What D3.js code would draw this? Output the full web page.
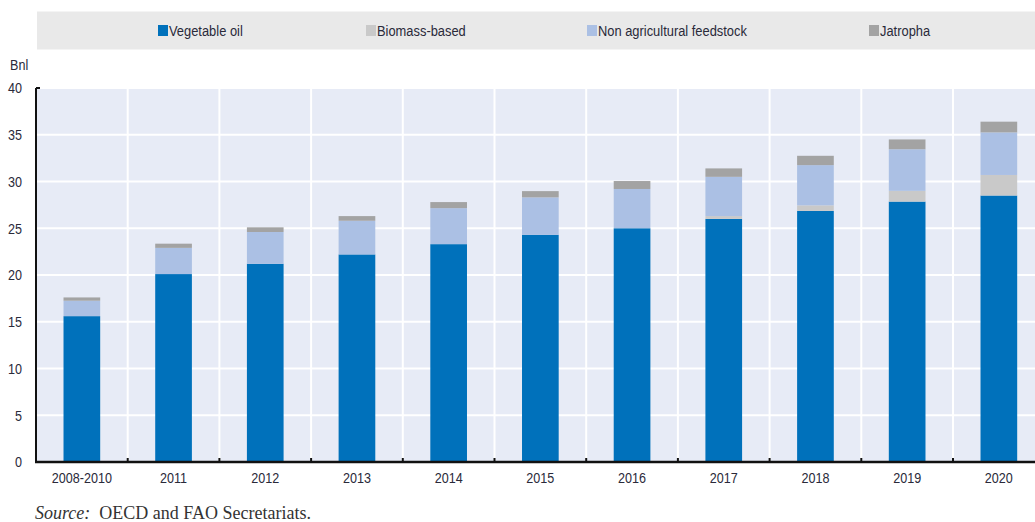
<!DOCTYPE html>
<html><head><meta charset="utf-8">
<script src="https://cdn.jsdelivr.net/npm/d3@7"></script>
<style>
body{margin:0;background:#fff;}
svg{display:block;}
.nar{font-family:"Liberation Sans Narrow","Arial Narrow","Liberation Sans",Arial,sans-serif;}
</style></head>
<body>
<svg id="c" width="1035" height="522"></svg>
<script>
const categories = ["2008-2010","2011","2012","2013","2014","2015","2016","2017","2018","2019","2020"];
const vegetableOil = [15.6,20.1,21.2,22.2,23.3,24.3,25.0,26.0,26.85,27.85,28.5];
const biomassBased = [0,0,0,0,0,0,0,0.3,0.6,1.15,2.2];
const nonAgricultural = [1.65,2.8,3.4,3.6,3.85,4.0,4.2,4.2,4.3,4.45,4.55];
const jatropha = [0.35,0.45,0.5,0.5,0.65,0.67,0.85,0.9,1.0,1.05,1.15];
const seriesNames = ["Vegetable oil","Biomass-based","Non agricultural feedstock","Jatropha"];
const seriesColors = ["#0071bb","#c9c9c9","#abc0e4","#a3a3a3"];
const yTicks = [0,5,10,15,20,25,30,35,40];

(function(){
const svg = d3.select("#c");
const mLeft = 36, mTop = 88, mBottom = 462, mRight = 36 + 11*91.7;
const SX = 0.84, LSX = 0.86;

const x = d3.scaleBand().domain(categories).range([mLeft,mRight]).paddingInner(0).paddingOuter(0);
const y = d3.scaleLinear().domain([0,40]).range([mBottom,mTop]);

const rows = categories.map((c,i)=>({cat:c,
  "Vegetable oil":vegetableOil[i],
  "Biomass-based":biomassBased[i],
  "Non agricultural feedstock":nonAgricultural[i],
  "Jatropha":jatropha[i]}));
const stack = d3.stack().keys(seriesNames)(rows);

// legend box
svg.append("rect").attr("x",37).attr("y",11.5).attr("width",1000).attr("height",38).attr("fill","#e9e9e9");
const legX = [158,366,587,869];
seriesNames.forEach((s,i)=>{
  svg.append("rect").attr("x",legX[i]).attr("y",25).attr("width",10).attr("height",11).attr("fill",seriesColors[i]);
  svg.append("text").attr("class","nar").attr("x",(legX[i]+11)/LSX).attr("y",36)
    .attr("transform",`scale(${LSX},1)`)
    .attr("font-size",15).attr("fill","#2a2a3a").text(s);
});

// plot bg
svg.append("rect").attr("x",mLeft).attr("y",mTop).attr("width",mRight-mLeft).attr("height",mBottom-mTop).attr("fill","#e7ebf6");

// grid
svg.append("g").selectAll("line").data(yTicks.filter(d=>d>0)).join("line")
  .attr("x1",mLeft).attr("x2",mRight).attr("y1",d=>y(d)).attr("y2",d=>y(d))
  .attr("stroke","#fff").attr("stroke-width",2);
svg.append("g").selectAll("line").data(categories.slice(1)).join("line")
  .attr("x1",d=>x(d)).attr("x2",d=>x(d)).attr("y1",mTop).attr("y2",mBottom)
  .attr("stroke","#fff").attr("stroke-width",2);

// bars
const bw = x.bandwidth()*0.4;
svg.append("g").selectAll("g").data(stack).join("g")
  .attr("fill",(d,i)=>seriesColors[i])
  .selectAll("rect").data(d=>d).join("rect")
  .attr("x",d=>x(d.data.cat)+(x.bandwidth()-bw)/2)
  .attr("width",bw)
  .attr("y",d=>y(d[1]))
  .attr("height",d=>Math.max(0,y(d[0])-y(d[1])));

// y axis
const yAxis = d3.axisLeft(y).tickValues(yTicks).tickSize(0).tickPadding(14);
const ya = svg.append("g").attr("transform",`translate(${mLeft},0)`).call(yAxis);
ya.select(".domain").remove();
ya.selectAll("text").attr("class","nar").attr("font-size",15).attr("fill","#2a2a3a")
  .attr("x",-14/SX).attr("transform",`scale(${SX},1)`);
svg.append("line").attr("x1",mLeft).attr("x2",mLeft).attr("y1",mTop).attr("y2",mBottom).attr("stroke","#111").attr("stroke-width",2);
svg.append("line").attr("x1",mLeft).attr("x2",mLeft+4).attr("y1",mTop).attr("y2",mTop).attr("stroke","#111").attr("stroke-width",2);

// x axis
const xAxis = d3.axisBottom(x).tickSize(0).tickPadding(10);
const xa = svg.append("g").attr("transform",`translate(0,${mBottom})`).call(xAxis);
xa.select(".domain").remove();
xa.selectAll("text").attr("class","nar").attr("font-size",15).attr("fill","#2a2a3a")
  .attr("transform",`scale(${SX},1)`);
svg.append("g").selectAll("line").data(categories.slice(1)).join("line")
  .attr("x1",d=>x(d)).attr("x2",d=>x(d)).attr("y1",mBottom-4).attr("y2",mBottom)
  .attr("stroke","#111").attr("stroke-width",2);
svg.append("line").attr("x1",mLeft-1).attr("x2",mRight).attr("y1",mBottom).attr("y2",mBottom).attr("stroke","#111").attr("stroke-width",2.5);

// unit label
svg.append("text").attr("class","nar").attr("x",10/SX).attr("y",70).attr("transform",`scale(${SX},1)`)
  .attr("font-size",15).attr("fill","#2a2a3a").text("Bnl");

// source
const src = svg.append("text").attr("x",35).attr("y",519).attr("font-family","'Liberation Serif','DejaVu Serif',serif").attr("font-size",18).attr("fill","#333");
src.append("tspan").attr("font-style","italic").text("Source:");
src.append("tspan").text("\u00a0 OECD and FAO Secretariats.");
})();
</script>
</body></html>
